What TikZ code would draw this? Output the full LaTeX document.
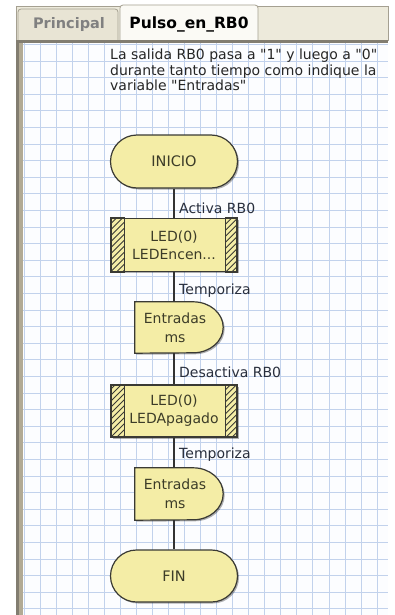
\documentclass[tikz,border=0pt]{standalone}
\usepackage{fontspec}
\setmainfont{DejaVu Sans}[Ligatures=TeXOff]
\usetikzlibrary{shapes.misc,shadows}
\definecolor{boxfill}{RGB}{244,237,166}
\definecolor{boxedge}{RGB}{58,58,52}
\definecolor{boxtext}{RGB}{60,60,40}
\definecolor{lbltext}{RGB}{40,46,60}
\definecolor{gridline}{RGB}{194,210,236}
\definecolor{gridbg}{RGB}{252,253,255}
\definecolor{tabbg}{RGB}{237,234,219}
\definecolor{tabinact}{RGB}{232,228,212}
\definecolor{tabact}{RGB}{251,250,245}
\definecolor{tabedge}{RGB}{165,160,145}
\definecolor{framebar}{RGB}{178,170,148}
\definecolor{framedark}{RGB}{130,125,112}
\tikzset{
  shad/.style={drop shadow={shadow xshift=1.5pt,shadow yshift=-1.5pt,opacity=0.3,fill=black}},
  terminal/.style={rounded rectangle, draw=boxedge, line width=1.2pt, fill=boxfill, shad,
    minimum width=127pt, minimum height=53pt, inner sep=0pt, text=boxtext,
    font=\fontsize{14.5}{18}\selectfont},
  callbox/.style={rectangle, draw=boxedge, line width=1.2pt, fill=boxfill, shad,
    minimum width=126pt, minimum height=53pt, inner sep=0pt, text=boxtext, align=center,
    font=\fontsize{14}{18}\selectfont},
  delayholder/.style={rectangle, draw=none, minimum width=88pt, minimum height=51pt,
    inner sep=0pt, text=boxtext, align=center, font=\fontsize{14}{19}\selectfont},
  delayshape/.style={draw=boxedge, line width=1.2pt, fill=boxfill, shad},
  hatchline/.style={draw=boxedge, line width=0.8pt},
  barline/.style={draw=boxedge, line width=1.2pt},
  conn/.style={draw=black!80, line width=1.8pt},
  lbl/.style={anchor=west, inner sep=0pt, text=lbltext, font=\fontsize{14}{16}\selectfont},
  comment/.style={anchor=north west, inner sep=0pt, align=left, text=black!85,
    font=\fontsize{14}{15.5}\selectfont},
  gline/.style={draw=gridline, line width=0.9pt}
}
\begin{document}
\begin{tikzpicture}[x=1pt,y=-1pt]
\useasboundingbox (0,0) rectangle (395,615);
\fill[white] (0,0) rectangle (395,615);
% grid area
\fill[gridbg] (23,42) rectangle (388,615);
\begin{scope}
  \clip (23,42) rectangle (388,615);
  \foreach \i in {0,...,23} \draw[gline] ({24+16.05*\i},42) -- ({24+16.05*\i},615);
  \foreach \j in {0,...,35} \draw[gline] (23,{44.5+16.6*\j}) -- (388,{44.5+16.6*\j});
\end{scope}
% frame
\fill[tabbg] (16,6) rectangle (388,41);
\draw[tabedge, line width=0.8pt] (16,41) -- (16,6) -- (388,6) -- (388,41);
\fill[framebar] (16,40) rectangle (23,615);
\fill[framedark] (16,40) rectangle (18.5,615);
% tabs
\draw[tabedge, fill=tabinact, line width=0.8pt, rounded corners=3pt] (18,41) -- (18,9) -- (118,9) -- (118,41);
\node[text=black!50, font=\bfseries\fontsize{14.5}{16}\selectfont] (tab1) at (69,25) {Principal};
\draw[tabedge, fill=tabact, line width=0.8pt, rounded corners=3pt] (120,41) -- (120,5) -- (258,5) -- (258,41);
\node[text=black, font=\bfseries\fontsize{15.5}{17}\selectfont] (tab2) at (189,24) {Pulso\_en\_RB0};
\draw[framedark, line width=2.2pt] (16,41.5) -- (388,41.5);
% comment
\node[comment] (note) at (110,49) {La salida RB0 pasa a "1" y luego a "0"\\durante tanto tiempo como indique la\\variable "Entradas"};
% nodes
\node[terminal] (inicio) at (174,161.5) {INICIO};
\node[callbox] (led1) at (174,245) {LED(0)\\LEDEncen...};
\node[delayholder] (d1) at (179,327.5) {};
\node[callbox, minimum height=52pt] (led2) at (174,411) {LED(0)\\LEDApagado};
\node[delayholder, minimum height=52pt] (d2) at (179,494) {};
\node[terminal, minimum height=52pt] (fin) at (174,576) {FIN};
% delay shapes
\foreach \n/\r in {d1/25.5,d2/26}{
  \path[delayshape] (\n.north west) -- ([xshift=-30pt]\n.north east)
    arc[start angle=90, end angle=-90, x radius=30pt, y radius=\r pt] -- (\n.south west) -- cycle;
}
% hatch bars
\foreach \n in {led1,led2}{
  \begin{scope}
    \clip (\n.north west) rectangle ([xshift=14pt]\n.south west);
    \foreach \k in {-60,-54,...,18} \draw[hatchline] ([xshift=\k pt]\n.south west) -- ++(60,-60);
  \end{scope}
  \draw[barline] (\n.north west) rectangle ([xshift=14pt]\n.south west);
  \begin{scope}
    \clip ([xshift=-12pt]\n.north east) rectangle (\n.south east);
    \foreach \k in {-72,-66,...,6} \draw[hatchline] ([xshift=\k pt]\n.south east) -- ++(60,-60);
  \end{scope}
  \draw[barline] ([xshift=-12pt]\n.north east) rectangle (\n.south east);
}
\node[delayholder, xshift=-4pt] (t1) at (d1) {Entradas\\ms};
\node[delayholder, xshift=-4pt] (t2) at (d2) {Entradas\\ms};
% connectors
\draw[conn] (inicio.south) -- (led1.north);
\draw[conn] (led1.south) -- (led1.south |- d1.north);
\draw[conn] (led1.south |- d1.south) -- (led2.north);
\draw[conn] (led2.south) -- (led2.south |- d2.north);
\draw[conn] (fin.north |- d2.south) -- (fin.north);
% labels
\node[lbl] (l1) at (179,208) {Activa RB0};
\node[lbl] (l2) at (179,291) {Temporiza};
\node[lbl] (l3) at (179,372) {Desactiva RB0};
\node[lbl] (l4) at (179,455) {Temporiza};
\end{tikzpicture}
\end{document}
